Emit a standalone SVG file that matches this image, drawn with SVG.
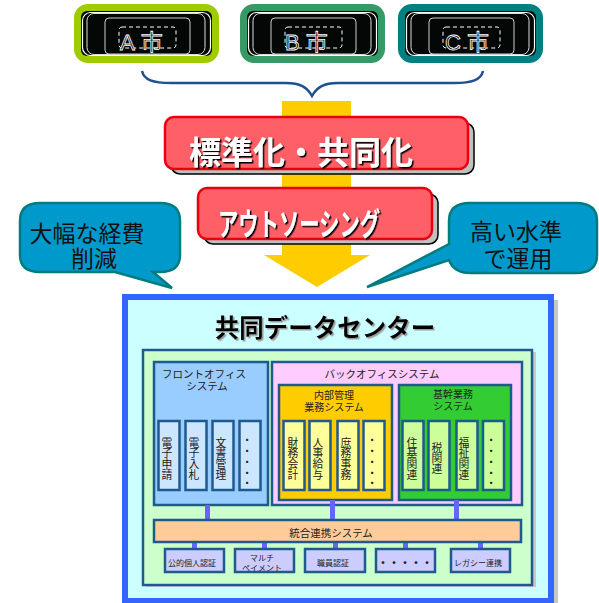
<svg xmlns="http://www.w3.org/2000/svg" width="599" height="603" viewBox="0 0 599 603">
<defs>
<filter id="bigshadow" x="-5%" y="-10%" width="110%" height="125%"><feDropShadow dx="1.5" dy="1.5" stdDeviation="0.4" flood-color="#000"/></filter>
<filter id="softshadow" x="-5%" y="-10%" width="110%" height="125%"><feDropShadow dx="1.5" dy="1.5" stdDeviation="0.5" flood-color="#999"/></filter>
<g id="frame">
<rect x="7" y="7" width="131" height="45" rx="6" fill="#030806"/>
<rect x="8.500" y="8.500" width="128" height="43" rx="8" fill="none" stroke="#fff" stroke-width="1.2"/>
<rect x="13" y="9.500" width="118" height="41" rx="7" fill="none" stroke="#ddd" stroke-width="1"/>
<rect x="31" y="14" width="85" height="36" rx="4" fill="#030806" stroke="#ccc" stroke-width="1"/>
<rect x="45" y="23" width="57" height="21" rx="3" fill="none" stroke="#fff" stroke-width="1" stroke-dasharray="4 3"/>
</g>
<style>
text{font-family:"Noto Sans CJK JP","Liberation Sans",sans-serif;text-anchor:middle;fill:#222}
.cityt{font-size:22px;fill:#000;stroke:#fff;stroke-width:.8;font-family:"Liberation Sans","Noto Sans CJK JP",sans-serif;text-anchor:start;letter-spacing:6px}
.red{fill:#ff5f67;stroke:#e8000d;stroke-width:2.5}
.sh{fill:#c0c0c0;stroke:#000;stroke-width:1.5}
.big{fill:#fff;font-weight:700;filter:url(#bigshadow)}
.call{fill:#0099cc;stroke:#007c7c;stroke-width:2.5}
.ct{font-size:23px;fill:#111}
.b{stroke:#1f5a8f;stroke-width:2.5}
.v{font-size:10.800px;writing-mode:vertical-rl;text-orientation:upright;text-anchor:start}
.d{font-size:10.700px;writing-mode:vertical-rl;text-orientation:upright;text-anchor:start}
.s{font-size:10.500px}
.t{font-size:8px}
.n{font-size:10px}
</style></defs>
<g id="city-a"><rect x="76" y="6" width="141" height="55" rx="12" fill="#9fcc00" stroke="#9fcc00" stroke-width="4"/><use href="#frame" x="74" y="4"/><text x="120" y="50" class="cityt">A市</text></g>
<g id="city-b"><rect x="242" y="6" width="141" height="55" rx="12" fill="#359a66" stroke="#359a66" stroke-width="4"/><use href="#frame" x="240" y="4"/><text x="285" y="50" class="cityt">B市</text></g>
<g id="city-c"><rect x="400" y="6" width="141" height="55" rx="12" fill="#008080" stroke="#008080" stroke-width="4"/><use href="#frame" x="398" y="4"/><text x="445" y="50" class="cityt">C市</text></g>
<g id="connectors">
<path d="M142 71C144 80 153 83 171 83H286C300 83 307 87 312 96C317 87 324 83 338 83H454C472 83 481 80 483 71" fill="none" stroke="#1f5090" stroke-width="2.5"/>
<path d="M282 101H351V255H370L317 287L264 255H282Z" fill="#ffcc00"/>
</g>
<g id="standardize"><rect x="171" y="123" width="303" height="51" rx="9" class="sh"/><rect x="165" y="117" width="303" height="52" rx="9" class="red"/><text x="301" y="164" class="big" style="font-size:32px">標準化・共同化</text></g>
<g id="outsourcing"><rect x="204" y="194" width="234" height="50" rx="9" class="sh"/><rect x="198" y="188" width="234" height="51" rx="9" class="red"/><text x="299" y="235" class="big" style="font-size:31px" textLength="162" lengthAdjust="spacingAndGlyphs">アウトソーシング</text></g>
<g id="callout-left"><path d="M40 203H160Q180 203 180 221V255Q180 272 160 272H153L172 288L115 272H40Q20 272 20 255V221Q20 203 40 203Z" class="call"/><text x="87" y="242" class="ct">大幅な経費</text><text x="94" y="267" class="ct">削減</text></g>
<g id="callout-right"><path d="M470 203H576Q597 203 597 221V255Q597 273 576 273H470Q454 273 449 260L367 287L449 244V221Q449 203 470 203Z" class="call"/><text x="516" y="240" class="ct">高い水準</text><text x="518" y="267" class="ct">で運用</text></g>
<g id="data-center">
<rect x="128" y="300" width="430" height="303" fill="#c8c8c8"/>
<rect x="125" y="297" width="426" height="304" fill="#ccffff" stroke="#3366ff" stroke-width="6"/>
<text x="325" y="337" style="font-size:24.500px;font-weight:700;fill:#000;filter:url(#softshadow)">共同データセンター</text>
<rect x="146" y="352" width="390" height="235" fill="#c8c8c8"/>
<rect x="143" y="350" width="389" height="235" fill="#ccffcc" class="b"/>
</g>
<g id="front-office"><rect x="154" y="362" width="114" height="143" fill="#99ccff" class="b"/><text x="204" y="378" class="s">フロントオフィス</text><text x="207" y="390" class="s">システム</text></g>
<g id="front-items">
<rect x="158.500" y="421" width="21" height="69" fill="#cce6ff" class="b"/><text x="167" y="437" class="v">電子申請</text>
<rect x="185.500" y="421" width="21" height="69" fill="#cce6ff" class="b"/><text x="194" y="437" class="v">電子入札</text>
<rect x="212.500" y="421" width="21" height="69" fill="#cce6ff" class="b"/><text x="221" y="437" class="v">文書管理</text>
<rect x="239.500" y="421" width="21" height="69" fill="#cce6ff" class="b"/><text x="247" y="435" class="d">・・・・・</text>
</g>
<g id="back-office"><rect x="272" y="362" width="250" height="143" fill="#ffccff" class="b"/><text x="382" y="378" class="s">バックオフィスシステム</text></g>
<g id="internal"><rect x="279" y="385" width="113" height="115" fill="#ffcc00" class="b"/><text x="334" y="399" class="n">内部管理</text><text x="334" y="411" class="n">業務システム</text>
<rect x="283.500" y="421" width="21" height="69" fill="#ffff99" class="b"/><text x="293" y="437" class="v">財務会計</text>
<rect x="309.500" y="421" width="21" height="69" fill="#ffff99" class="b"/><text x="318" y="437" class="v">人事給与</text>
<rect x="337.500" y="421" width="21" height="69" fill="#ffff99" class="b"/><text x="346" y="437" class="v">庶務事務</text>
<rect x="363.500" y="421" width="21" height="69" fill="#ffff99" class="b"/><text x="372" y="435" class="d">・・・・・</text>
</g>
<g id="core"><rect x="399" y="385" width="112" height="115" fill="#33cc33" class="b"/><text x="453" y="398" class="n">基幹業務</text><text x="453" y="410" class="n">システム</text>
<rect x="402.500" y="421" width="21" height="69" fill="#ccff99" class="b"/><text x="412" y="437" class="v">住基関連</text>
<rect x="428.500" y="421" width="21" height="69" fill="#ccff99" class="b"/><text x="437" y="442" class="v">税関連</text>
<rect x="456.500" y="421" width="21" height="69" fill="#ccff99" class="b"/><text x="464" y="437" class="v">福祉関連</text>
<rect x="483" y="421" width="21" height="69" fill="#ccff99" class="b"/><text x="491" y="435" class="d">・・・・・</text>
</g>
<g id="links" fill="#6666ff"><rect x="205" y="505" width="5" height="14"/><rect x="330" y="500" width="5" height="19"/><rect x="454" y="500" width="5" height="19"/><rect x="192" y="543" width="5" height="6"/><rect x="262" y="543" width="5" height="6"/><rect x="333" y="543" width="5" height="6"/><rect x="403" y="543" width="5" height="6"/><rect x="478" y="543" width="5" height="6"/></g>
<g id="integration"><rect x="154" y="520" width="367" height="22" fill="#ffcc99" class="b"/><text x="331" y="537" class="s">統合連携システム</text></g>
<g id="auth-1"><rect x="165" y="549" width="59" height="23" fill="#ccccff" class="b"/><text x="192" y="566" class="t">公的個人認証</text></g>
<g id="auth-2"><rect x="235" y="549" width="59" height="23" fill="#ccccff" class="b"/><text x="262" y="561" class="t">マルチ</text><text x="262" y="570.500" class="t">ペイメント</text></g>
<g id="auth-3"><rect x="305" y="549" width="60" height="23" fill="#ccccff" class="b"/><text x="333" y="566" class="t">職員認証</text></g>
<g id="auth-4"><rect x="376" y="549" width="59" height="23" fill="#ccccff" class="b"/><text x="405" y="567" style="font-size:11px;font-weight:700">・・・・・</text></g>
<g id="auth-5"><rect x="451" y="549" width="59" height="23" fill="#ccccff" class="b"/><text x="478" y="566" class="t">レガシー連携</text></g>
</svg>
